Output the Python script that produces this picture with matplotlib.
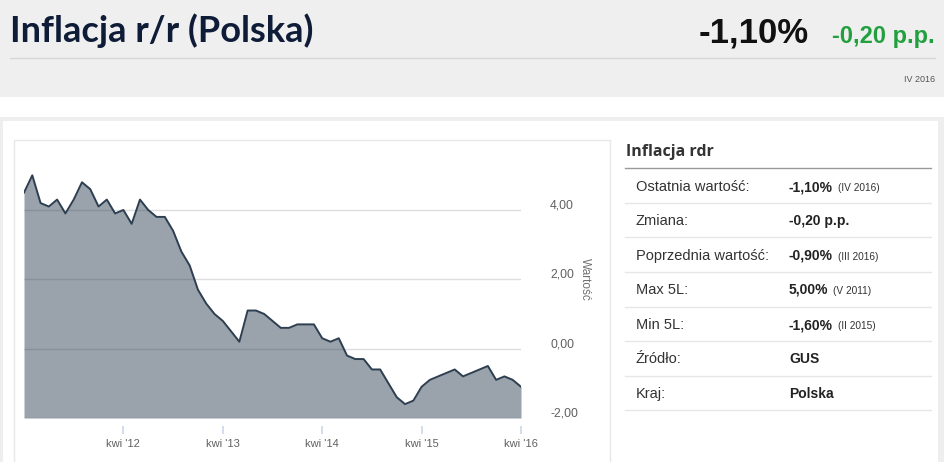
import numpy as np
import pandas as pd
import matplotlib
matplotlib.use('Agg')
import matplotlib.pyplot as plt
from matplotlib import font_manager
from matplotlib.patches import Rectangle
from matplotlib.lines import Line2D
from matplotlib.transforms import ScaledTranslation

# monthly CPI y/y, Apr 2011 .. Apr 2016
values = [4.5, 5.0, 4.2, 4.1, 4.3, 3.9, 4.3, 4.8, 4.6,
          4.1, 4.3, 3.9, 4.0, 3.6, 4.3, 4.0, 3.8, 3.8, 3.4, 2.8, 2.4,
          1.7, 1.3, 1.0, 0.8, 0.5, 0.2, 1.1, 1.1, 1.0, 0.8, 0.6, 0.6,
          0.7, 0.7, 0.7, 0.3, 0.2, 0.3, -0.2, -0.3, -0.3, -0.6, -0.6, -1.0,
          -1.4, -1.6, -1.5, -1.1, -0.9, -0.8, -0.7, -0.6, -0.8, -0.7, -0.6, -0.5,
          -0.9, -0.8, -0.9, -1.1]
months = pd.date_range('2011-04-01', periods=len(values), freq='MS')
tick_labels = ["kwi '12", "kwi '13", "kwi '14", "kwi '15", "kwi '16"]
y_ticks = [-2, 0, 2, 4]
y_tick_labels = ['-2,00', '0,00', '2,00', '4,00']

info_labels = ['Ostatnia wartość:', 'Zmiana:', 'Poprzednia wartość:', 'Max 5L:',
               'Min 5L:', 'Źródło:', 'Kraj:']
info_values = ['-1,10%', '-0,20 p.p.', '-0,90%', '5,00%', '-1,60%', 'GUS', 'Polska']
info_notes = ['(IV 2016)', '', '(III 2016)', '(V 2011)', '(II 2015)', '', '']

W, H = 945, 462


def fx(x):
    return x / W


def fy(y):
    return 1 - y / H


names = {f.name for f in font_manager.fontManager.ttflist}
head = 'Lato' if 'Lato' in names else 'DejaVu Sans'
sans = 'Liberation Sans' if 'Liberation Sans' in names else 'DejaVu Sans'
plt.rcParams['font.family'] = [sans, 'DejaVu Sans']

fig = plt.figure(figsize=(W / 100, H / 100), dpi=100)
fig.patch.set_facecolor('white')

# header band
fig.patches.append(Rectangle((0, fy(97)), 1, 97 / H, transform=fig.transFigure,
                             facecolor='#efefef', edgecolor='none', zorder=0))
fig.lines.append(Line2D([fx(10), fx(935)], [fy(58), fy(58)], transform=fig.transFigure,
                        color='#d6d6d6', lw=1))
fig.text(fx(10), fy(42), 'Inflacja r/r (Polska)', family=[head, 'DejaVu Sans'],
         fontsize=26, weight='bold', color='#0f1c38', va='baseline')
fig.text(fx(809), fy(42.5), '-1,10%', fontsize=25, weight='bold', color='#111111',
         ha='right', va='baseline')
fig.text(fx(935), fy(42.5), '-0,20 p.p.', fontsize=17, weight='bold', color='#22a03f',
         ha='right', va='baseline')
fig.text(fx(935), fy(80), 'IV 2016', fontsize=6.5, color='#555555', ha='right', va='center')

# outer panel borders
fig.patches.append(Rectangle((0, fy(121)), 1, 4 / H, transform=fig.transFigure,
                             facecolor='#eeeeee', edgecolor='none'))
fig.patches.append(Rectangle((0, 0), fx(3), fy(121), transform=fig.transFigure,
                             facecolor='#eeeeee', edgecolor='none'))
fig.patches.append(Rectangle((fx(938), 0), fx(7), fy(121), transform=fig.transFigure,
                             facecolor='#eeeeee', edgecolor='none'))
# chart box
fig.patches.append(Rectangle((fx(14), fy(470)), fx(596), 330 / H, transform=fig.transFigure,
                             facecolor='none', edgecolor='#e8e8e8', lw=1))

# chart
ax = fig.add_axes([fx(24), fy(418), fx(497), (418 - 150) / H])
x = np.arange(len(values))
ax.fill_between(x, values, -2, color='#2c3e50', alpha=0.48, lw=0, zorder=2)
ax.plot(x, values, color='#2c3e50', lw=1.4, zorder=3)
ax.set_xlim(0, len(values) - 1)
ax.set_ylim(-2, -2 + 268 / 34.67)
for s in ax.spines.values():
    s.set_visible(False)
ax.set_facecolor('none')
ax.set_yticks(y_ticks)
ax.set_yticklabels(y_tick_labels)
ax.yaxis.tick_right()
ax.grid(axis='y', color='#dedede', lw=1, zorder=1)
ax.tick_params(axis='y', length=0, pad=21, labelsize=8.8, labelcolor='#606060')
for lab in ax.get_yticklabels():
    lab.set_ha('left')
    lab.set_transform(lab.get_transform() + ScaledTranslation(0, 6 / 100, fig.dpi_scale_trans))

april = [i for i, m in enumerate(months) if m.month == 4 and m.year >= 2012]
ax.set_xticks(april)
ax.set_xticklabels(tick_labels)
ax.spines['bottom'].set_position(('outward', 6))
ax.tick_params(axis='x', length=6, width=1.2, color='#ccd6eb', pad=3,
               labelsize=8, labelcolor='#606060')

fig.text(fx(585), fy(279), 'Wartość', rotation=270, fontsize=8.5, color='#707070',
         ha='center', va='center')

# info panel
fig.text(fx(626), fy(152), 'Inflacja rdr', family=['Open Sans', 'DejaVu Sans'],
         weight='bold', fontsize=11.5, color='#333333', va='center')
fig.lines.append(Line2D([fx(625), fx(931)], [fy(168), fy(168)], transform=fig.transFigure,
                        color='#9a9a9a', lw=1))
rows_y = [191, 225, 260, 294, 329, 363, 398]
seps_y = [203, 237, 272, 307, 341, 376, 410]
renderer = fig.canvas.get_renderer()
for yy, lab, val, note, sy in zip(rows_y, info_labels, info_values, info_notes, seps_y):
    fig.text(fx(636), fy(yy), lab, fontsize=10.5, color='#333333', va='baseline')
    t = fig.text(fx(789), fy(yy), val, fontsize=10, weight='bold', color='#222222',
                 va='baseline')
    if note:
        bb = t.get_window_extent(renderer)
        fig.text(fx(bb.x1 + 5), fy(yy), note, fontsize=7.3, color='#333333', va='baseline')
    fig.lines.append(Line2D([fx(625), fx(931)], [fy(sy), fy(sy)], transform=fig.transFigure,
                            color='#e6e6e6', lw=1))

fig.savefig('out.png', dpi=100)
